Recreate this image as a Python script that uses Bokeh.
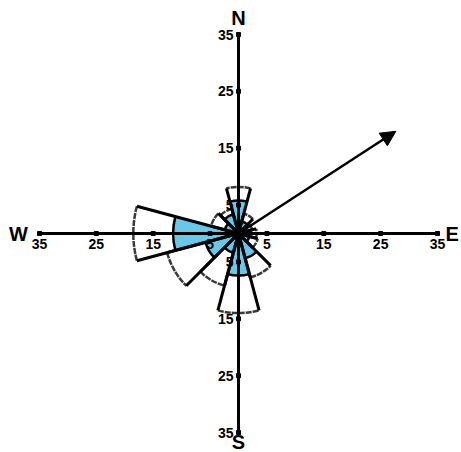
import numpy as np
from bokeh.plotting import figure
from bokeh.models import Range1d, Arrow, NormalHead
from bokeh.core.properties import value
from bokeh.embed import file_html
from bokeh.resources import INLINE

# ---- data ----
directions = [0, 30, 60, 90, 120, 150, 180, 210, 240, 270, 300, 330]   # compass degrees
inner_part = [5.8, 2.2, 1.5, 1.5, 2.0, 4.5, 7.4, 3.5, 6.0, 11.5, 2.5, 3.5]  # blue segment
total_part = [8.2, 3.6, 2.5, 3.2, 3.5, 8.0, 14.0, 9.5, 13.0, 18.5, 5.0, 4.5]  # full bar
sector_width = 30
tick_values = [5, 15, 25, 35]
tick_labels = ["5", "15", "25", "35"]
axis_max = 35
cardinal_labels = ["N", "E", "S", "W"]
cardinal_dirs = [0, 90, 180, 270]
arrow_direction = 57
arrow_magnitude = 33

BLUE = "#67c8ea"
FONT = value("Liberation Sans")

W, H = 461, 452
ppu = 199 / 35.0
cx, cy = 238, 233
p = figure(width=W, height=H, output_backend="svg", toolbar_location=None,
           x_range=Range1d(-cx / ppu, (W - cx) / ppu),
           y_range=Range1d(-(H - cy) / ppu, cy / ppu),
           min_border=0, outline_line_color=None)
p.axis.visible = False
p.grid.visible = False
p.background_fill_color = "white"

d = np.array(directions, dtype=float)
inner = np.array(inner_part)
total = np.array(total_part)
start = np.deg2rad(90 - (d + sector_width / 2))
end = np.deg2rad(90 - (d - sector_width / 2))

p.annular_wedge(x=0, y=0, inner_radius=inner, outer_radius=total, start_angle=start,
                end_angle=end, fill_color="white", line_color=None)
p.wedge(x=0, y=0, radius=inner, start_angle=start, end_angle=end,
        fill_color=BLUE, line_color=None)
p.arc(x=0, y=0, radius=inner, start_angle=start, end_angle=end,
      line_color="black", line_width=2.5)
p.arc(x=0, y=0, radius=total, start_angle=start, end_angle=end,
      line_color="#3a3a3a", line_width=2.5, line_dash="6 1")
for ang in (start, end):
    p.segment(x0=0, y0=0, x1=total * np.cos(ang), y1=total * np.sin(ang),
              line_color="black", line_width=3)

# axes
p.segment(x0=[-axis_max, 0], y0=[0, -axis_max], x1=[axis_max, 0], y1=[0, axis_max],
          line_color="black", line_width=3)
tv = np.array(tick_values, dtype=float)
zeros = np.zeros_like(tv)
p.scatter(x=np.concatenate([tv, -tv, zeros, zeros]),
          y=np.concatenate([zeros, zeros, tv, -tv]),
          marker="square", size=4, color="black")

# tick labels
lab = dict(text_font=FONT, text_font_style="bold", text_font_size="14px")
p.text(x=tv, y=zeros, text=tick_labels, text_align="center", text_baseline="top",
       y_offset=5, **lab)
p.text(x=-tv, y=zeros, text=tick_labels, text_align="center", text_baseline="top",
       y_offset=5, **lab)
p.text(x=zeros, y=tv, text=tick_labels, text_align="right", text_baseline="middle",
       x_offset=-5, **lab)
p.text(x=zeros, y=-tv, text=tick_labels, text_align="right", text_baseline="middle",
       x_offset=-5, **lab)

# cardinal letters
cd = np.deg2rad(cardinal_dirs)
rl = axis_max + np.array([2.9, 2.6, 1.7, 3.7])
p.text(x=rl * np.sin(cd), y=rl * np.cos(cd), text=cardinal_labels, text_font=FONT,
       text_font_style="bold", text_font_size="20px", text_align="center",
       text_baseline="middle")

# arrow
aa = np.deg2rad(arrow_direction)
p.add_layout(Arrow(end=NormalHead(size=15, fill_color="black", line_color="black"),
                   x_start=0, y_start=0,
                   x_end=arrow_magnitude * np.sin(aa), y_end=arrow_magnitude * np.cos(aa),
                   line_width=2.5, line_color="black"))

open("out.html", "w").write(file_html(p, INLINE))
